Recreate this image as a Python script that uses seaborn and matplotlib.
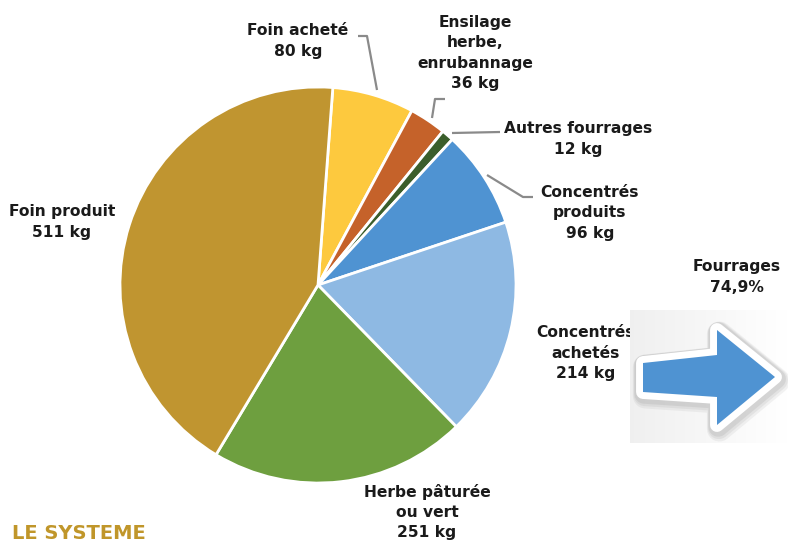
import numpy as np
import matplotlib.pyplot as plt
import seaborn as sns
from matplotlib.patches import Polygon

# Données (kg de fourrages et concentrés)
labels = ["Foin acheté", "Ensilage\nherbe,\nenrubannage", "Autres fourrages",
          "Concentrés\nproduits", "Concentrés\nachetés", "Herbe pâturée\nou vert",
          "Foin produit"]
values = [80, 36, 12, 96, 214, 251, 511]
colors = ["#FDC93E", "#C5622A", "#3B5E2B", "#4F93D2", "#8EB9E3", "#6E9F3F", "#C09530"]
fourrages_label = "Fourrages\n74,9%"
title_text = "LE SYSTEME"

sns.set_theme(style="white")
plt.rcParams['font.family'] = ['DejaVu Sans']

fig = plt.figure(figsize=(7.88, 5.44), dpi=100)

# Camembert
ax = fig.add_axes([118 / 788, 59 / 544, 400 / 788, 400 / 544])
ax.pie(values, colors=colors, startangle=85.7, counterclock=False,
       wedgeprops=dict(edgecolor="white", linewidth=2))
ax.set_xlim(-1.01, 1.01)
ax.set_ylim(-1.01, 1.01)
ax.set_aspect("equal")
ax.axis("off")

# Calque en pixels pour étiquettes et décor
ov = fig.add_axes([0, 0, 1, 1], zorder=5)
ov.set_xlim(0, 788)
ov.set_ylim(544, 0)
ov.axis("off")
ov.patch.set_alpha(0)

# position des étiquettes (centre, en pixels)
label_pos = [(298, 41), (475, 53), (578, 139), (590, 213), (586, 353), (427, 512), (62, 222)]
for lab, v, (x, y) in zip(labels, values, label_pos):
    ov.text(x, y, f"{lab}\n{v} kg", ha="center", va="center", fontsize=11.2,
            fontweight="bold", color="#1a1a1a", linespacing=1.45, zorder=2)

# traits de rappel
leaders = [
    [(377, 90), (367, 36), (358, 36)],
    [(432, 118), (435, 99), (445, 99)],
    [(452, 133), (500, 132)],
    [(487, 175), (523, 197), (533, 197)],
]
for pts in leaders:
    xs, ys = zip(*pts)
    ov.plot(xs, ys, color="#8a8a8a", lw=1.6, zorder=2, solid_capstyle="butt")

# panneau et flèche
grad = np.linspace(0.94, 1.0, 64).reshape(1, -1)
ov.imshow(np.dstack([grad, grad, grad]), extent=[630, 788, 443, 310], aspect="auto", zorder=3)
arrow = [(643, 363), (717, 355), (717, 330), (775, 377), (717, 425), (717, 397), (643, 392)]
for off, a in [(4, 0.12), (3, 0.15), (2, 0.2)]:
    shadow = [(x + off * 0.6, y + off) for x, y in arrow]
    ov.add_patch(Polygon(shadow, closed=True, facecolor="#999999", edgecolor="#999999",
                         lw=10 + off * 2, joinstyle="round", alpha=a, zorder=4))
ov.add_patch(Polygon(arrow, closed=True, facecolor="white", edgecolor="white",
                     lw=10, joinstyle="round", zorder=5))
ov.add_patch(Polygon(arrow, closed=True, facecolor="#4F93D2", edgecolor="none", zorder=6))

ov.text(737, 277, fourrages_label, ha="center", va="center", fontsize=11.2,
        fontweight="bold", color="#1a1a1a", linespacing=1.45, zorder=7)

ov.text(12, 543, title_text, ha="left", va="bottom", fontsize=14, fontweight="bold",
        color="#C0962A", zorder=7)

plt.savefig("out.png", dpi=100)
